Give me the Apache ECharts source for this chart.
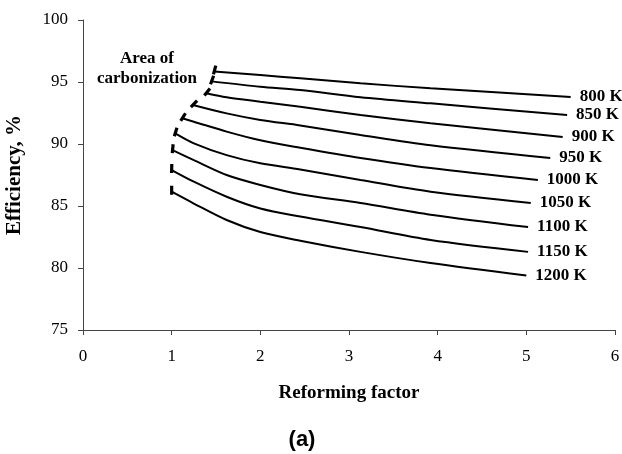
<!DOCTYPE html>
<html>
<head>
<meta charset="utf-8">
<style>
  html, body { margin: 0; padding: 0; background: #fff; }
  #chart { width: 622px; height: 454px; }
</style>
<script src="https://cdn.jsdelivr.net/npm/echarts@6/dist/echarts.min.js"></script>
</head>
<body>
<div id="chart"></div>
<script>
// Efficiency vs reforming factor, one curve per temperature.
// Each curve starts at the carbonization limit (first point).
const temperatures = ['800 K', '850 K', '900 K', '950 K', '1000 K', '1050 K', '1100 K', '1150 K', '1200 K'];

const t800  = [[1.48, 95.85], [2.0, 95.56], [2.45, 95.3], [3.13, 94.9], [3.92, 94.49], [5.5, 93.8]];
const t850  = [[1.45, 95.05], [2.0, 94.62], [2.45, 94.35], [3.13, 93.77], [3.92, 93.28], [5.46, 92.34]];
const t900  = [[1.39, 94.1], [1.62, 93.77], [2.0, 93.41], [2.45, 93.0], [3.13, 92.34], [3.92, 91.67], [5.41, 90.56]];
const t950  = [[1.24, 93.15], [1.62, 92.47], [2.0, 91.94], [2.45, 91.5], [3.13, 90.73], [3.92, 89.9], [5.27, 88.87]];
const t1000 = [[1.12, 92.07], [1.25, 91.8], [1.62, 91.0], [2.0, 90.3], [2.45, 89.7], [3.13, 88.87], [3.92, 88.06], [5.13, 87.1]];
const t1050 = [[1.04, 90.85], [1.25, 90.05], [1.62, 89.1], [2.0, 88.44], [2.45, 87.95], [3.13, 87.1], [3.92, 86.15], [5.05, 85.24]];
const t1100 = [[1.01, 89.5], [1.25, 88.7], [1.62, 87.5], [2.0, 86.7], [2.45, 85.95], [3.13, 85.24], [3.92, 84.3], [5.02, 83.3]];
const t1150 = [[1.0, 87.9], [1.25, 86.96], [1.62, 85.75], [2.0, 84.8], [2.45, 84.15], [3.13, 83.3], [3.92, 82.26], [5.02, 81.3]];
const t1200 = [[1.0, 86.15], [1.25, 85.2], [1.62, 83.87], [2.0, 82.9], [2.45, 82.2], [3.13, 81.3], [3.92, 80.4], [5.0, 79.4]];

const curves = [t800, t850, t900, t950, t1000, t1050, t1100, t1150, t1200];

const xTicks = [0, 1, 2, 3, 4, 5, 6];
const yTicks = [75, 80, 85, 90, 95, 100];

const serif = '"Liberation Serif", "Times New Roman", serif';

// carbonization boundary: the first point of every curve
const boundary = curves.map(c => c[0]);

const lineSeries = curves.map((data, i) => ({
  type: 'line',
  name: temperatures[i],
  data: data,
  smooth: 0.3,
  showSymbol: false,
  silent: true,
  lineStyle: { color: '#000', width: 2 },
  endLabel: {
    show: true,
    formatter: '{a}',
    distance: 9,
    color: '#000',
    fontFamily: serif,
    fontWeight: 'bold',
    fontSize: 17
  },
  z: 3
}));

// short thick dash at each curve start, aligned with the boundary direction
const boundarySeries = {
  type: 'custom',
  data: boundary,
  silent: true,
  z: 4,
  renderItem: function (params, api) {
    const i = params.dataIndex;
    const p = api.coord([boundary[i][0], boundary[i][1]]);
    const a = boundary[Math.max(i - 1, 0)];
    const b = boundary[Math.min(i + 1, boundary.length - 1)];
    const pa = api.coord(a), pb = api.coord(b);
    let dx = pa[0] - pb[0], dy = pa[1] - pb[1];
    const len = Math.sqrt(dx * dx + dy * dy) || 1;
    dx /= len; dy /= len;
    const up = 6, down = 3;
    return {
      type: 'line',
      shape: {
        x1: p[0] - dx * down, y1: p[1] - dy * down,
        x2: p[0] + dx * up, y2: p[1] + dy * up
      },
      style: { stroke: '#000', lineWidth: 3.2 }
    };
  }
};

const chart = echarts.init(document.getElementById('chart'), null, { renderer: 'canvas' });

chart.setOption({
  animation: false,
  backgroundColor: '#fff',
  grid: { left: 83, right: 7, top: 20, bottom: 124, outerBoundsMode: 'none', containLabel: false },
  xAxis: {
    type: 'value',
    min: xTicks[0],
    max: xTicks[xTicks.length - 1],
    interval: 1,
    name: 'Reforming factor',
    nameLocation: 'middle',
    nameGap: 54,
    nameTextStyle: { fontFamily: serif, fontWeight: 'bold', fontSize: 19, color: '#000' },
    axisLine: { lineStyle: { color: '#444', width: 1 } },
    axisTick: { length: 5, lineStyle: { color: '#444' } },
    axisLabel: { margin: 18, fontFamily: serif, fontSize: 17, color: '#000' },
    splitLine: { show: false }
  },
  yAxis: {
    type: 'value',
    min: yTicks[0],
    max: yTicks[yTicks.length - 1],
    interval: 5,
    name: 'Efficiency, %',
    nameLocation: 'middle',
    nameGap: 58,
    nameTextStyle: { fontFamily: serif, fontWeight: 'bold', fontSize: 21, color: '#000' },
    axisLine: { show: true, lineStyle: { color: '#444', width: 1 } },
    axisTick: { show: true, length: 5, lineStyle: { color: '#444' } },
    axisLabel: { margin: 15, fontFamily: serif, fontSize: 17, color: '#000' },
    splitLine: { show: false }
  },
  graphic: [
    {
      type: 'text',
      style: {
        x: 147, y: 69,
        text: 'Area of\ncarbonization',
        align: 'center',
        verticalAlign: 'middle',
        lineHeight: 20,
        font: 'bold 17px ' + serif,
        fill: '#000'
      }
    },
    {
      type: 'text',
      style: {
        x: 302, y: 440,
        text: '(a)',
        align: 'center',
        verticalAlign: 'middle',
        font: 'bold 22px "Liberation Sans", Arial, sans-serif',
        fill: '#000'
      }
    }
  ],
  series: lineSeries.concat([boundarySeries])
});
</script>
</body>
</html>
